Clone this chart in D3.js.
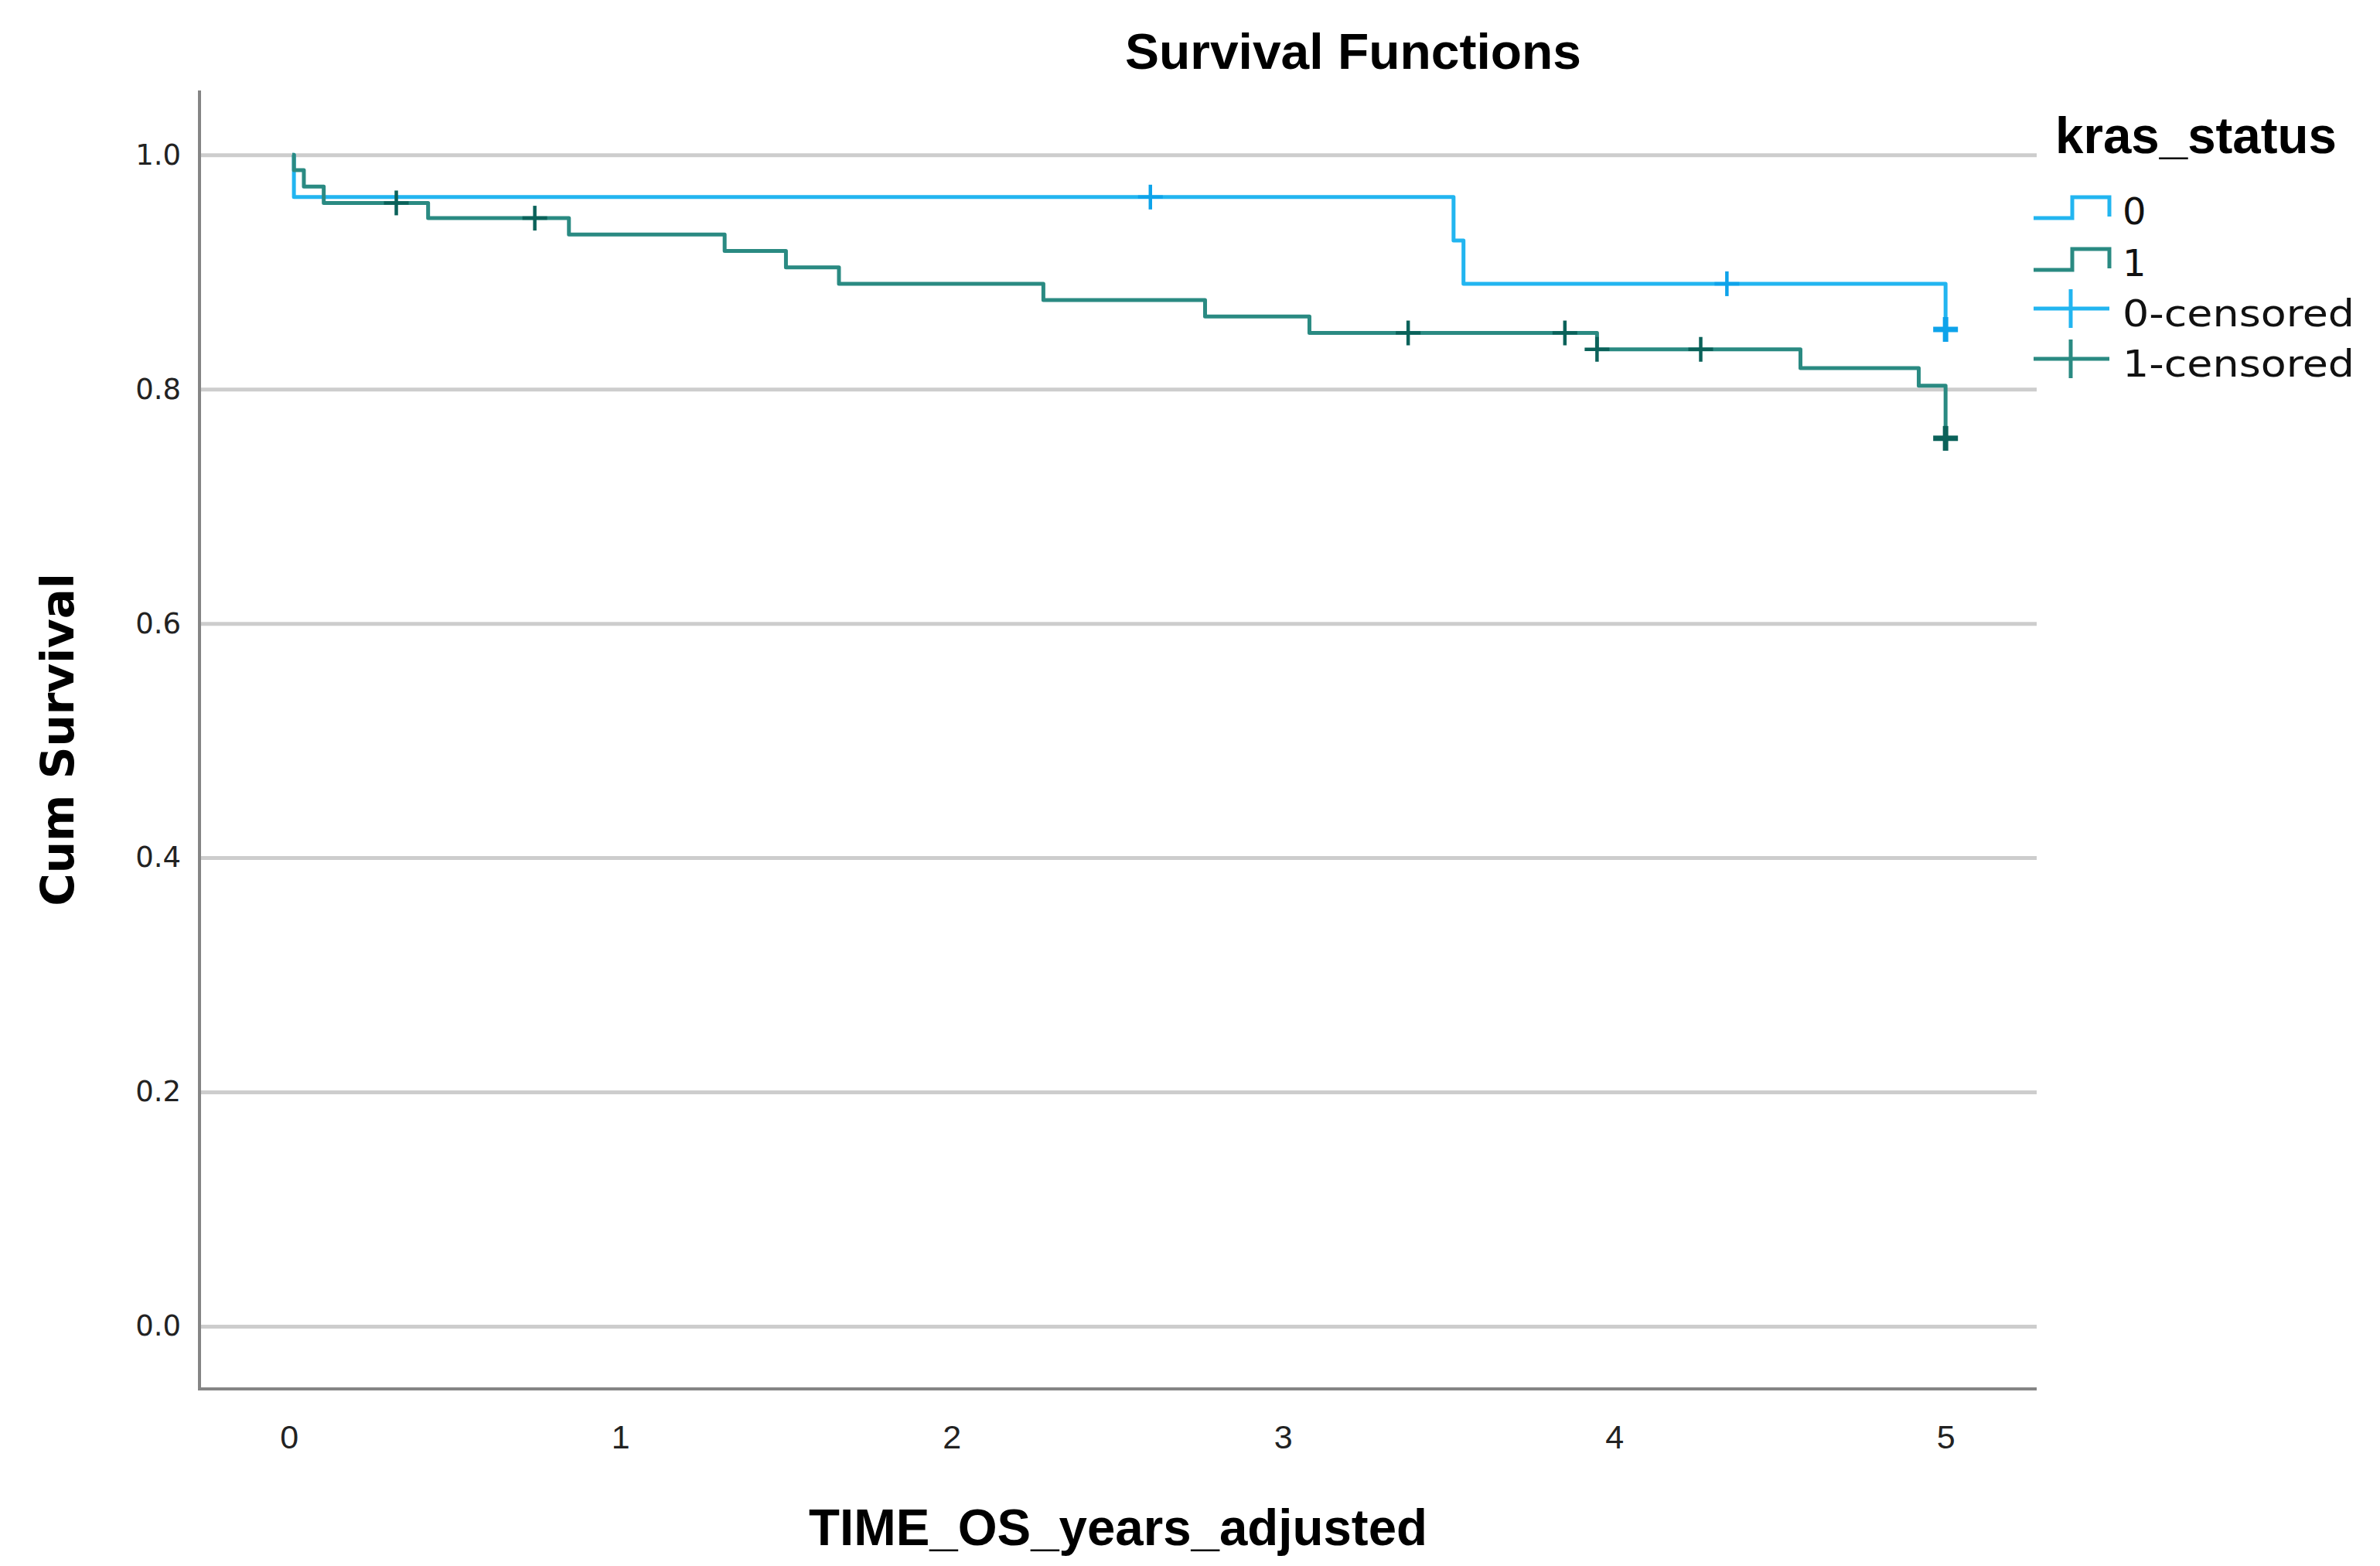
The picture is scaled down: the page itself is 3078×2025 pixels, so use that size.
<!DOCTYPE html>
<html>
<head>
<meta charset="utf-8">
<script src="https://cdn.jsdelivr.net/npm/d3@7"></script>
<style>
  body { margin: 0; background: #fff; }
  svg { display: block; }
</style>
</head>
<body>
<div id="chart"></div>
<script>
// Kaplan-Meier curves, kras_status 0 / 1

var width = 3078;
var height = 2025;

// group 0 (kras wild type) : event times and survival after each event
var eventT0 = [0.015, 3.515, 3.545, 5.0];
var eventS0 = [0.964, 0.927, 0.890, 0.851];
var censT0  = [2.60, 4.34, 5.0];
var censS0  = [0.964, 0.890, 0.851];
var censN0  = [1, 1, 3];

// group 1 (kras mutant)
var eventT1 = [0.015, 0.045, 0.105, 0.42, 0.845, 1.315, 1.50, 1.66, 2.277, 2.765, 3.08, 3.948, 4.562, 4.919, 5.0];
var eventS1 = [0.987, 0.973, 0.959, 0.946, 0.932, 0.918, 0.904, 0.890, 0.876, 0.862, 0.848, 0.834, 0.818, 0.803, 0.758];
var censT1  = [0.324, 0.742, 3.378, 3.851, 3.948, 4.261, 5.0];
var censS1  = [0.959, 0.946, 0.848, 0.848, 0.834, 0.834, 0.758];
var censN1  = [1, 1, 1, 1, 1, 1, 3];

var xTicks = [0, 1, 2, 3, 4, 5];
var yTicks = [0.0, 0.2, 0.4, 0.6, 0.8, 1.0];
var groups = ["0", "1"];
var legendLabels = ["0", "1", "0-censored", "1-censored"];

var lineCol = {"0": "#22b5f0", "1": "#2a8a82"};
var censCol = {"0": "#0ea3ea", "1": "#0b625a"};

var svg = d3.select("div#chart")
    .append("svg")
    .attr("width", width)
    .attr("height", height);

svg.append("rect").attr("width", width).attr("height", height).attr("fill", "#fff");

// plot box (note: "top" is taken by window.top, so use other names)
var pLeft = 258, pRight = 2634, pTop = 117, pBottom = 1796;

var x = d3.scaleLinear().domain([-0.27, 5.275]).range([pLeft, pRight]);
var y = d3.scaleLinear().domain([-0.0535, 1.055]).range([pBottom, pTop]);

// grid + y labels
var yAxis = svg.append("g")
    .attr("transform", "translate(" + pLeft + ",0)")
    .call(d3.axisLeft(y).tickValues(yTicks).tickFormat(d3.format(".1f"))
        .tickSize(-(pRight - pLeft)).tickPadding(24));
yAxis.select(".domain").remove();
yAxis.selectAll(".tick line").attr("stroke", "#cdcdcd").attr("stroke-width", 5);
yAxis.selectAll(".tick text")
    .attr("font-family", "DejaVu Sans")
    .attr("font-size", 37)
    .attr("fill", "#222");

// x labels
var xAxis = svg.append("g")
    .attr("transform", "translate(0," + pBottom + ")")
    .call(d3.axisBottom(x).tickValues(xTicks).tickFormat(d3.format("d"))
        .tickSize(0).tickPadding(46));
xAxis.select(".domain").remove();
xAxis.selectAll(".tick text")
    .attr("font-family", "Liberation Sans")
    .attr("font-size", 43)
    .attr("fill", "#222");

// axis lines
svg.append("line").attr("x1", pLeft).attr("x2", pLeft).attr("y1", pTop).attr("y2", pBottom + 2)
    .attr("stroke", "#858585").attr("stroke-width", 4);
svg.append("line").attr("x1", pLeft).attr("x2", pRight).attr("y1", pBottom).attr("y2", pBottom)
    .attr("stroke", "#858585").attr("stroke-width", 4);

// curves
var step = d3.line()
    .x((d) => x(d[0]))
    .y((d) => y(d[1]))
    .curve(d3.curveStepAfter);

var series = {
  "0": {t: eventT0, s: eventS0, ct: censT0, cs: censS0, cn: censN0},
  "1": {t: eventT1, s: eventS1, ct: censT1, cs: censS1, cn: censN1}
};

groups.forEach(function(g) {
  var d = series[g];
  var pts = [[0.01, 1.0]].concat(d.t.map((t, i) => [t, d.s[i]]));
  svg.append("path")
      .datum(pts)
      .attr("d", step)
      .attr("fill", "none")
      .attr("stroke", lineCol[g])
      .attr("stroke-width", 5)
      .attr("stroke-linejoin", "round");
});

// censor marks (plus signs)
var arm = 16;
groups.forEach(function(g) {
  var d = series[g];
  var cg = svg.append("g");
  d.ct.forEach(function(t, i) {
    var cx = x(t), cy = y(d.cs[i]);
    var sw = d.cn[i] > 1 ? 7 : 4.5;
    cg.append("line").attr("x1", cx - arm).attr("x2", cx + arm).attr("y1", cy).attr("y2", cy)
        .attr("stroke", censCol[g]).attr("stroke-width", sw);
    cg.append("line").attr("x1", cx).attr("x2", cx).attr("y1", cy - arm).attr("y2", cy + arm)
        .attr("stroke", censCol[g]).attr("stroke-width", sw);
  });
});

// titles
svg.append("text")
    .attr("x", 1750).attr("y", 89)
    .attr("text-anchor", "middle")
    .attr("font-family", "Liberation Sans Narrow, Liberation Sans")
    .attr("font-weight", "bold")
    .attr("font-size", 64)
    .attr("textLength", 590).attr("lengthAdjust", "spacingAndGlyphs")
    .text("Survival Functions");

svg.append("text")
    .attr("x", (pLeft + pRight) / 2).attr("y", 1998)
    .attr("text-anchor", "middle")
    .attr("font-family", "Liberation Sans Narrow, Liberation Sans")
    .attr("font-weight", "bold")
    .attr("font-size", 66)
    .attr("textLength", 800).attr("lengthAdjust", "spacingAndGlyphs")
    .text("TIME_OS_years_adjusted");

svg.append("text")
    .attr("transform", "translate(95," + (pTop + pBottom) / 2 + ") rotate(-90)")
    .attr("text-anchor", "middle")
    .attr("font-family", "DejaVu Sans")
    .attr("font-weight", "bold")
    .attr("font-size", 58)
    .text("Cum Survival");

// legend
var lg = svg.append("g");
lg.append("text")
    .attr("x", 2658).attr("y", 198)
    .attr("font-family", "Liberation Sans")
    .attr("font-weight", "bold")
    .attr("font-size", 66)
    .attr("textLength", 364).attr("lengthAdjust", "spacingAndGlyphs")
    .text("kras_status");

var rowY = [290, 357, 422, 487];
legendLabels.forEach(function(lab, i) {
  var g = groups[i % 2];
  var yy = rowY[i];
  if (i < 2) {
    var lo = yy - 8, hi = yy - 35;
    lg.append("path")
        .attr("d", "M2630," + lo + "H2680V" + hi + "H2728V" + (lo - 2))
        .attr("fill", "none").attr("stroke", lineCol[g]).attr("stroke-width", 5);
  } else {
    var cy = yy - 23;
    lg.append("line").attr("x1", 2630).attr("x2", 2728).attr("y1", cy).attr("y2", cy)
        .attr("stroke", lineCol[g]).attr("stroke-width", 5);
    lg.append("line").attr("x1", 2678).attr("x2", 2678).attr("y1", cy - 25).attr("y2", cy + 25)
        .attr("stroke", lineCol[g]).attr("stroke-width", 5);
  }
  var t = lg.append("text")
      .attr("x", 2745).attr("y", yy)
      .attr("font-family", "DejaVu Sans")
      .attr("font-size", 48)
      .attr("fill", "#111")
      .text(lab);
  if (i >= 2) t.attr("textLength", 300).attr("lengthAdjust", "spacingAndGlyphs");
});
</script>
</body>
</html>
